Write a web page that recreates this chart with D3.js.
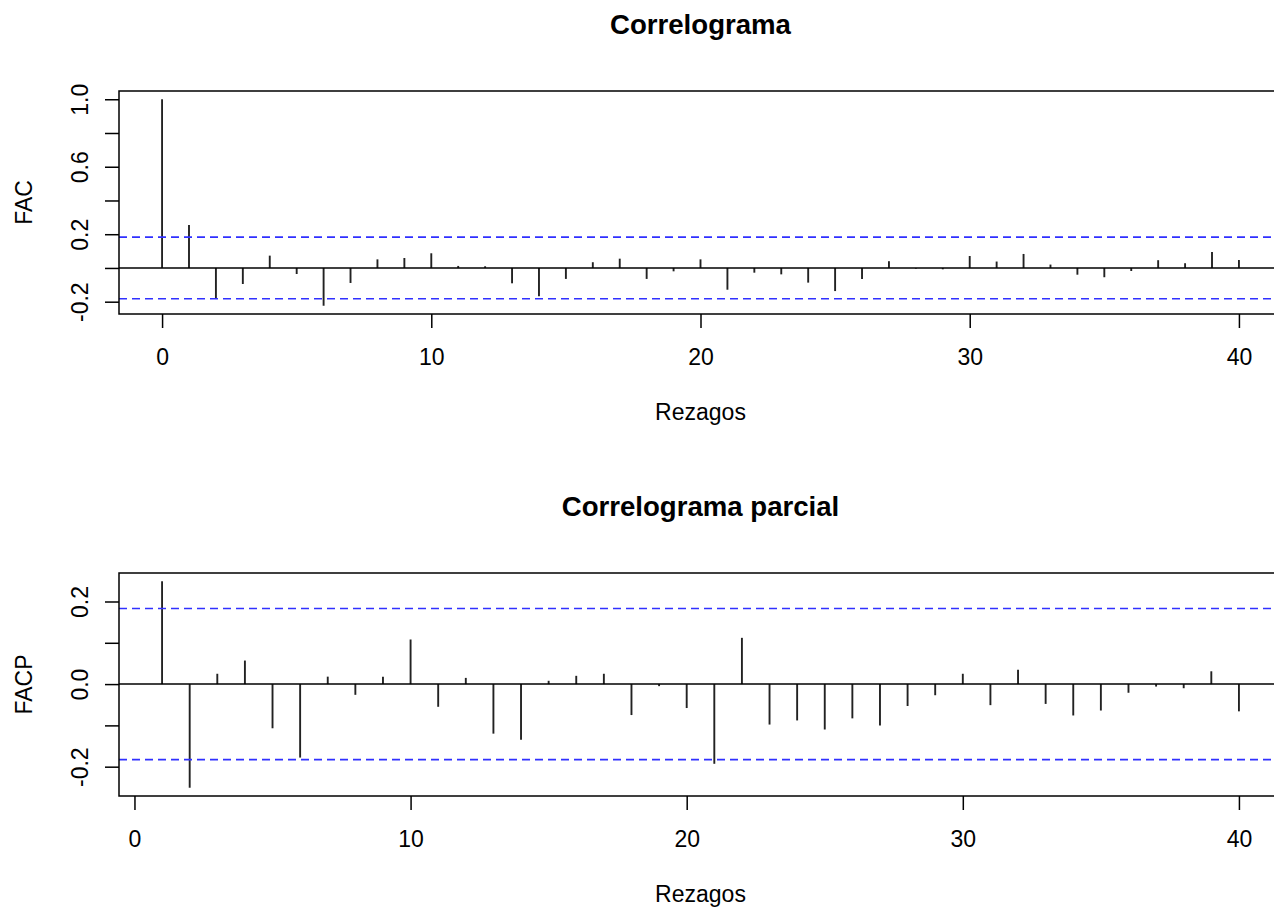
<!DOCTYPE html>
<html>
<head>
<meta charset="utf-8">
<script src="https://cdn.jsdelivr.net/npm/d3@7.9.0/dist/d3.min.js"></script>
<style>
  body { margin: 0; background: #fff; }
  svg { display: block; font-family: "Liberation Sans", Arial, sans-serif; }
</style>
</head>
<body>
<svg id="chart" width="1274" height="908"></svg>
<script>
// ACF values, lags 0..40
const acfLags = [0, 1, 2, 3, 4, 5, 6, 7, 8, 9, 10, 11, 12, 13, 14, 15, 16, 17, 18, 19, 20,
    21, 22, 23, 24, 25, 26, 27, 28, 29, 30, 31, 32, 33, 34, 35, 36, 37, 38, 39, 40];
const acfValues = [1.000, 0.255, -0.182, -0.095, 0.073, -0.036, -0.224, -0.089, 0.051, 0.059, 0.087,
    0.012, 0.010, -0.091, -0.168, -0.065, 0.034, 0.055, -0.065, -0.020, 0.051,
    -0.129, -0.028, -0.038, -0.087, -0.137, -0.065, 0.040, -0.004, -0.008, 0.071,
    0.038, 0.083, 0.020, -0.040, -0.055, -0.018, 0.046, 0.028, 0.095, 0.047];

// PACF values, lags 1..40
const pacfLags = acfLags.slice(1);
const pacfValues = [0.249, -0.251, 0.025, 0.057, -0.107, -0.178, 0.018, -0.026, 0.018, 0.108,
    -0.055, 0.015, -0.120, -0.135, 0.008, 0.020, 0.025, -0.075, -0.005, -0.058,
    -0.193, 0.112, -0.098, -0.088, -0.110, -0.083, -0.100, -0.053, -0.027, 0.025,
    -0.051, 0.035, -0.048, -0.076, -0.064, -0.021, -0.006, -0.010, 0.031, -0.066];

const clim = 0.183;
const xTicks = [0, 10, 20, 30, 40];
const acfTicks = [-0.2, 0, 0.2, 0.4, 0.6, 0.8, 1.0];
const acfLabeled = [-0.2, 0.2, 0.6, 1.0];
const pacfTicks = [-0.2, -0.1, 0, 0.1, 0.2];
const pacfLabeled = [-0.2, 0, 0.2];

const svg = d3.select('#chart');
const fontSize = 23;

// R style 4% range extension
function extend(ext) {
    const pad = (ext[1] - ext[0]) * 0.04;
    return [ext[0] - pad, ext[1] + pad];
}

function renderPanel(opts) {
    const { top, bottom, lags, values, title, ylab, yTicks, yLabeled } = opts;
    const left = 119, right = 1282;

    const x = d3.scaleLinear().domain(extend(d3.extent(lags))).range([left, right]);
    const y = d3.scaleLinear()
        .domain(extend(d3.extent(values.concat([clim, -clim]))))
        .range([bottom, top]);

    const g = svg.append('g');

    // spikes
    g.append('g')
        .selectAll('line')
        .data(lags)
        .join('line')
        .attr('x1', (d) => x(d))
        .attr('x2', (d) => x(d))
        .attr('y1', y(0))
        .attr('y2', (d, i) => y(values[i]))
        .attr('stroke', '#222')
        .attr('stroke-width', 1.9);

    // zero line
    g.append('line')
        .attr('x1', left).attr('x2', right)
        .attr('y1', y(0)).attr('y2', y(0))
        .attr('stroke', '#000').attr('stroke-width', 1.5);

    // confidence bands
    g.selectAll('line.clim')
        .data([clim, -clim])
        .join('line')
        .attr('class', 'clim')
        .attr('x1', left).attr('x2', right)
        .attr('y1', (d) => y(d)).attr('y2', (d) => y(d))
        .attr('stroke', '#3030ff')
        .attr('stroke-width', 1.6)
        .attr('stroke-dasharray', '8,5');

    // box
    g.append('rect')
        .attr('x', left).attr('y', top)
        .attr('width', right - left).attr('height', bottom - top)
        .attr('fill', 'none').attr('stroke', '#000').attr('stroke-width', 1.5);

    // x axis
    const xAxis = g.append('g')
        .attr('transform', `translate(0, ${bottom})`)
        .call(d3.axisBottom(x).tickValues(xTicks).tickSize(14).tickPadding(21).tickFormat(d3.format('d')));
    xAxis.select('.domain').remove();
    xAxis.selectAll('.tick line').attr('stroke', '#000').attr('stroke-width', 1.5);
    xAxis.selectAll('text').attr('fill', '#000').style('font-size', fontSize + 'px');

    // y axis
    const yAxis = g.append('g')
        .attr('transform', `translate(${left}, 0)`)
        .call(d3.axisLeft(y).tickValues(yTicks).tickSize(14)
            .tickFormat((d) => yLabeled.some((v) => Math.abs(v - d) < 1e-9) ? d3.format('.1f')(d).replace('−', '-') : ''));
    yAxis.select('.domain').remove();
    yAxis.selectAll('.tick line').attr('stroke', '#000').attr('stroke-width', 1.5);
    yAxis.selectAll('text')
        .attr('x', null).attr('dy', null)
        .attr('text-anchor', 'middle')
        .attr('transform', 'translate(-31, 0) rotate(-90)')
        .attr('fill', '#000')
        .style('font-size', fontSize + 'px');

    // labels
    g.append('text')
        .attr('x', (left + right) / 2).attr('y', bottom + 106)
        .attr('text-anchor', 'middle')
        .style('font-size', fontSize + 'px')
        .text('Rezagos');

    g.append('text')
        .attr('transform', `translate(32, ${(top + bottom) / 2}) rotate(-90)`)
        .attr('text-anchor', 'middle')
        .style('font-size', fontSize + 'px')
        .text(ylab);

    g.append('text')
        .attr('x', (left + right) / 2).attr('y', top - 57)
        .attr('text-anchor', 'middle')
        .style('font-size', '27.6px')
        .style('font-weight', 'bold')
        .text(title);
}

renderPanel({
    top: 91, bottom: 314, lags: acfLags, values: acfValues,
    title: 'Correlograma', ylab: 'FAC', yTicks: acfTicks, yLabeled: acfLabeled
});

renderPanel({
    top: 573, bottom: 796, lags: pacfLags, values: pacfValues,
    title: 'Correlograma parcial', ylab: 'FACP', yTicks: pacfTicks, yLabeled: pacfLabeled
});
</script>
</body>
</html>
